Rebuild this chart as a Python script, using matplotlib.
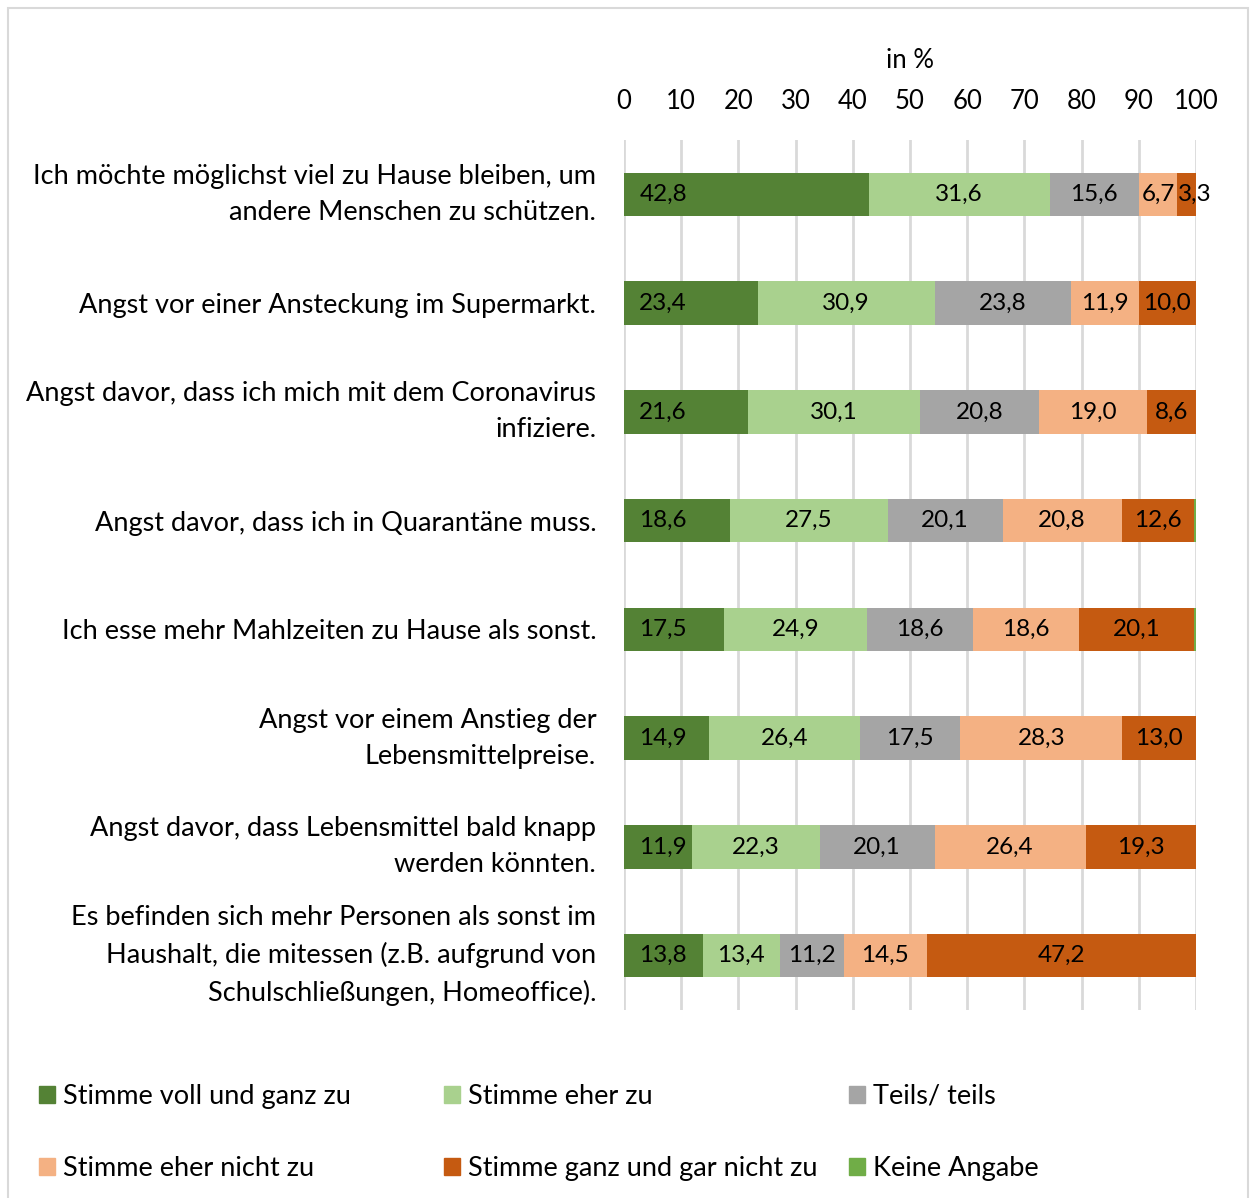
import matplotlib.pyplot as plt
from matplotlib.patches import Rectangle, Patch

plt.rcParams['font.family'] = ['Lato', 'DejaVu Sans']

categories = [
    "Ich möchte möglichst viel zu Hause bleiben, um\nandere Menschen zu schützen.",
    "Angst vor einer Ansteckung im Supermarkt.",
    "Angst davor, dass ich mich mit dem Coronavirus\ninfiziere.",
    "Angst davor, dass ich in Quarantäne muss.",
    "Ich esse mehr Mahlzeiten zu Hause als sonst.",
    "Angst vor einem Anstieg der\nLebensmittelpreise.",
    "Angst davor, dass Lebensmittel bald knapp\nwerden könnten.",
    "Es befinden sich mehr Personen als sonst im\nHaushalt, die mitessen (z.B. aufgrund von\nSchulschließungen, Homeoffice).",
]

series_names = ["Stimme voll und ganz zu", "Stimme eher zu", "Teils/ teils",
                "Stimme eher nicht zu", "Stimme ganz und gar nicht zu", "Keine Angabe"]

voll_zu = [42.8, 23.4, 21.6, 18.6, 17.5, 14.9, 11.9, 13.8]
eher_zu = [31.6, 30.9, 30.1, 27.5, 24.9, 26.4, 22.3, 13.4]
teils = [15.6, 23.8, 20.8, 20.1, 18.6, 17.5, 20.1, 11.2]
eher_nicht = [6.7, 11.9, 19.0, 20.8, 18.6, 28.3, 26.4, 14.5]
gar_nicht = [3.3, 10.0, 8.6, 12.6, 20.1, 13.0, 19.3, 47.2]
keine_angabe = [0.0, 0.0, 0.0, 0.4, 0.3, 0.0, 0.0, 0.0]

colors = ["#548235", "#A9D18E", "#A5A5A5", "#F4B183", "#C55A11", "#70AD47"]

series = [voll_zu, eher_zu, teils, eher_nicht, gar_nicht, keine_angabe]

fig = plt.figure(figsize=(12.5, 11.98), dpi=100)
ax = fig.add_axes([624 / 1250, 1 - 1010 / 1198, 572 / 1250, 870 / 1198])

fs = 19.5      # category and legend text
fs_tick = 18.5
fs_bar = 17.5

y = list(range(len(categories)))
left = [0.0] * len(categories)
for i, (name, vals) in enumerate(zip(series_names, series)):
    bars = ax.barh(y, vals, left=left, height=0.4, color=colors[i], label=name, zorder=3)
    labels = [f"{v:.1f}".replace('.', ',') for v in vals]
    if i == 0:
        # first series: labels sit at the inner base of the bar
        for yy, lab in zip(y, labels):
            ax.annotate(lab, (0, yy), xytext=(11, 0), textcoords='offset points',
                        ha='left', va='center', fontsize=fs_bar, zorder=4)
    elif i < 5:
        for yy, l0, v, lab in zip(y, left, vals, labels):
            # very narrow segments get their label nudged right, like the original
            dx = 6 if v < 5 else 0
            ax.annotate(lab, (l0 + v / 2, yy), xytext=(dx, 0), textcoords='offset points',
                        ha='center', va='center', fontsize=fs_bar, zorder=4)
    left = [l + v for l, v in zip(left, vals)]

ax.set_xlim(0, 100)
ax.set_ylim(7.5, -0.5)
ax.set_xticks(range(0, 101, 10))
ax.set_yticks(y)
ax.set_yticklabels(categories, fontsize=fs, linespacing=1.55)
for t in ax.get_yticklabels():
    if "\n" in t.get_text():
        t.set_va('center')
ax.xaxis.tick_top()
ax.xaxis.set_label_position('top')
ax.set_xlabel("in %", fontsize=fs_tick, labelpad=15)
ax.tick_params(axis='x', length=0, labelsize=fs_tick, pad=19)
ax.tick_params(axis='y', length=0, pad=20)
ax.grid(axis='x', color='#D9D9D9', linewidth=2, zorder=0)
for s in ax.spines.values():
    s.set_visible(False)

# outer frame
fig.patches.append(Rectangle((8 / 1250, -0.01), 1240 / 1250, 1 - 8 / 1198 + 0.01,
                             transform=fig.transFigure, fill=False,
                             edgecolor='#D9D9D9', linewidth=1.5))

# legend: three columns, two rows each
handles = [Patch(color=c) for c in colors]
col_x = [28 / 1250, 433 / 1250, 838 / 1250]
for k in range(3):
    idx = [k, k + 3]
    fig.legend([handles[j] for j in idx], [series_names[j] for j in idx],
               loc='upper left', bbox_to_anchor=(col_x[k], 1 - 1073 / 1198),
               frameon=False, fontsize=fs, handlelength=0.6, handleheight=0.6,
               handletextpad=0.3, labelspacing=1.75, borderaxespad=0)

fig.savefig("out.png", dpi=100)
